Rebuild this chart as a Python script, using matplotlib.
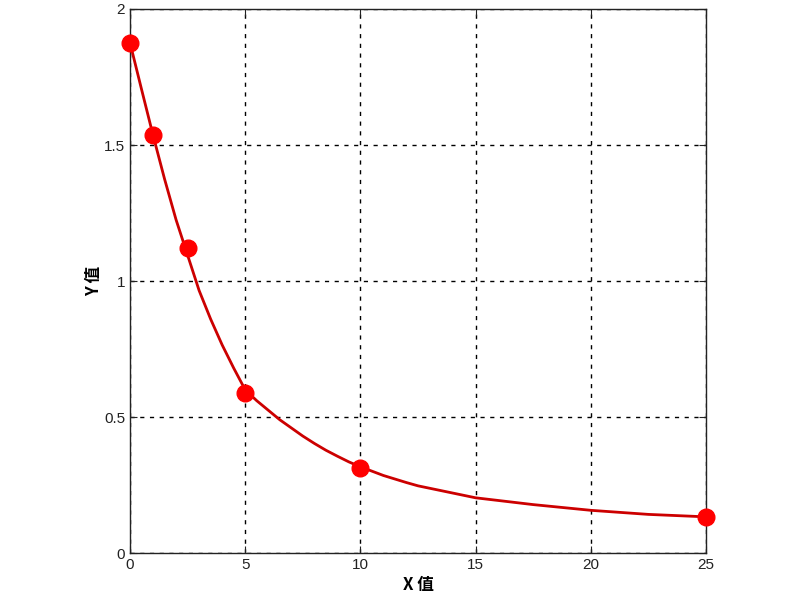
import matplotlib.pyplot as plt

plt.rcParams['font.family'] = ['Liberation Sans', 'Noto Sans CJK SC', 'DejaVu Sans']

# Точки вимірювань
x_points = [0, 1, 2.5, 5, 10, 25]
y_points = [1.876, 1.536, 1.12, 0.59, 0.313, 0.133]

# Крива
x_curve = [0, 0.5, 1, 1.5, 2, 2.5, 3, 3.5, 4, 4.5, 5, 5.5, 6, 6.5, 7, 7.5,
           8, 8.5, 9, 9.5, 10, 11, 12, 12.5, 15, 17.5, 20, 22.5, 25]
y_curve = [1.876, 1.705, 1.536, 1.375, 1.225, 1.095, 0.965, 0.86, 0.765, 0.68,
           0.60, 0.56, 0.525, 0.49, 0.46, 0.43, 0.403, 0.378, 0.356, 0.335,
           0.317, 0.285, 0.259, 0.247, 0.203, 0.178, 0.157, 0.142, 0.133]

x_ticks = [0, 5, 10, 15, 20, 25]
y_ticks = [0, 0.5, 1, 1.5, 2]
x_tick_labels = ['0', '5', '10', '15', '20', '25']
y_tick_labels = ['0', '0.5', '1', '1.5', '2']

fig = plt.figure(figsize=(8, 6), dpi=100)
ax = fig.add_axes([0.1625, 0.0783, 0.72, 0.9067])

ax.plot(x_curve, y_curve, color='#cc0000', lw=2, zorder=3,
        solid_joinstyle='round')
ax.plot(x_points, y_points, 'o', color='#ff0000', markersize=12, zorder=4,
        clip_on=False)

ax.set_xlim(0, 25)
ax.set_ylim(0, 2)
ax.set_xticks(x_ticks)
ax.set_xticklabels(x_tick_labels)
ax.set_yticks(y_ticks)
ax.set_yticklabels(y_tick_labels)
ax.tick_params(direction='in', length=5, labelsize=11, top=True, right=True,
               colors='#222222')
ax.grid(True, color='black', linestyle=(0, (3, 4)), linewidth=1)
for s in ax.spines.values():
    s.set_color('#222222')
    s.set_linewidth(1)

ax.set_xlabel('X 值', fontsize=12, fontweight='bold',
              family=['Noto Sans CJK SC', 'DejaVu Sans'], labelpad=3)
ax.set_ylabel('Y 值', fontsize=12, fontweight='bold',
              family=['Noto Sans CJK SC', 'DejaVu Sans'], labelpad=1)

plt.savefig('out.png', dpi=100)
